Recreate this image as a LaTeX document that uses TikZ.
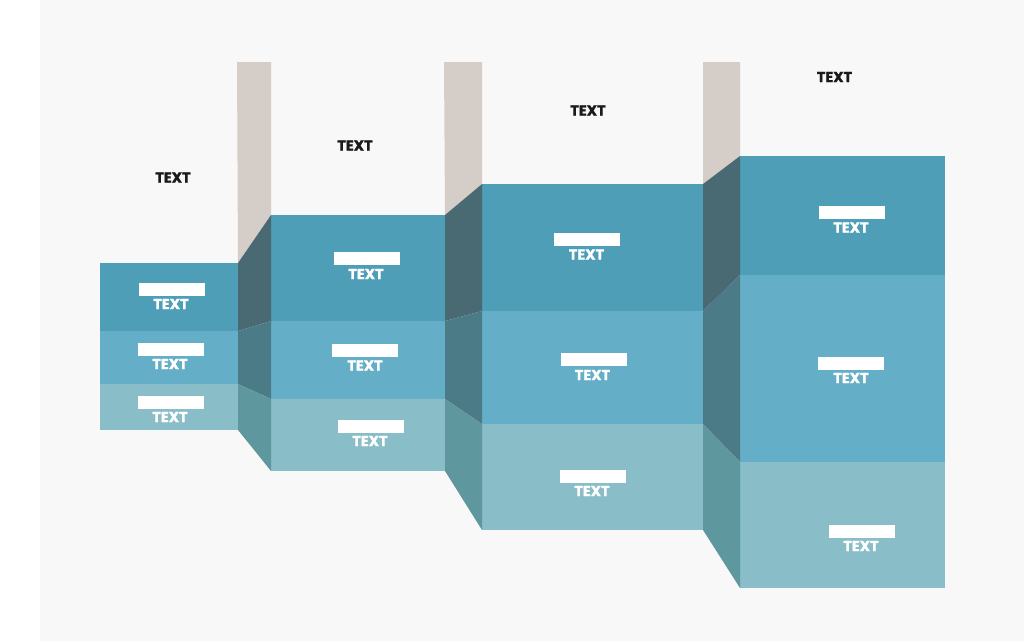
\documentclass[tikz,border=0pt]{standalone}
\usepackage{fontspec}
\setmainfont{Poppins}
\newfontfamily\heavyfont{Poppins}[BoldFeatures={FakeBold=1.4}]
\definecolor{bgray}{HTML}{F8F8F8}
\definecolor{topband}{HTML}{4E9EB7}
\definecolor{midband}{HTML}{65AEC7}
\definecolor{lowband}{HTML}{89BDC8}
\definecolor{topside}{HTML}{4A6A73}
\definecolor{midside}{HTML}{4B7B86}
\definecolor{lowside}{HTML}{5F979E}
\definecolor{pillar}{HTML}{D5CDC7}
\definecolor{ink}{HTML}{1A1A1A}

\begin{document}
\begin{tikzpicture}[x=1pt,y=-1pt,
    tag/.style={fill=white,minimum width=66pt,minimum height=13pt,inner sep=0pt},
    tagtext/.style={text=white,inner sep=0pt,font=\heavyfont\bfseries\fontsize{14.5}{14.5}\selectfont},
    title/.style={text=ink,inner sep=0pt,font=\heavyfont\bfseries\fontsize{14.5}{14.5}\selectfont}]
		\useasboundingbox (0,0) rectangle (1024,641);
		\fill[white] (0,0) rectangle (40,641);
		\fill[bgray] (40,0) rectangle (1024,641);
		% pillars
		\fill[pillar] (237,62) -- (271,62) -- (271,215) -- (238,263) -- cycle;
		\fill[pillar] (444,62) -- (482,62) -- (482,184) -- (445,215) -- cycle;
		\fill[pillar] (703,62) -- (740,62) -- (740,156) -- (703,184) -- cycle;
		% blocks
		\fill[topband] (100,263) rectangle (238,331);
		\fill[midband] (100,331) rectangle (238,384);
		\fill[lowband] (100,384) rectangle (238,430);
		\fill[topband] (271,215) rectangle (445,321);
		\fill[midband] (271,321) rectangle (445,399);
		\fill[lowband] (271,399) rectangle (445,471);
		\fill[topband] (482,184) rectangle (703,311);
		\fill[midband] (482,311) rectangle (703,424);
		\fill[lowband] (482,424) rectangle (703,530);
		\fill[topband] (740,156) rectangle (945,275);
		\fill[midband] (740,275) rectangle (945,462);
		\fill[lowband] (740,462) rectangle (945,588);
		% sides
		\fill[topside] (238,263) -- (271,215) -- (271,321) -- (238,331) -- cycle;
		\fill[midside] (238,331) -- (271,321) -- (271,399) -- (238,384) -- cycle;
		\fill[lowside] (238,384) -- (271,399) -- (271,471) -- (238,430) -- cycle;
		\fill[topside] (445,215) -- (482,184) -- (482,311) -- (445,321) -- cycle;
		\fill[midside] (445,321) -- (482,311) -- (482,424) -- (445,399) -- cycle;
		\fill[lowside] (445,399) -- (482,424) -- (482,530) -- (445,471) -- cycle;
		\fill[topside] (703,184) -- (740,156) -- (740,275) -- (703,311) -- cycle;
		\fill[midside] (703,311) -- (740,275) -- (740,462) -- (703,424) -- cycle;
		\fill[lowside] (703,424) -- (740,462) -- (740,588) -- (703,530) -- cycle;
		% labels
		\node[tag] (r1a) at (172,289) {};
		\node[tagtext] (t1a) at (171,304) {TEXT};
		\node[tag] (r1b) at (170.5,349.5) {};
		\node[tagtext] (t1b) at (170,364) {TEXT};
		\node[tag] (r1c) at (170.5,402) {};
		\node[tagtext] (t1c) at (170,417) {TEXT};
		\node[tag] (r2a) at (367,258.5) {};
		\node[tagtext] (t2a) at (366,274) {TEXT};
		\node[tag] (r2b) at (365,350.5) {};
		\node[tagtext] (t2b) at (365,365.5) {TEXT};
		\node[tag] (r2c) at (370.5,426.5) {};
		\node[tagtext] (t2c) at (370,441) {TEXT};
		\node[tag] (r3a) at (587,239) {};
		\node[tagtext] (t3a) at (586.5,254.5) {TEXT};
		\node[tag] (r3b) at (593.5,359.5) {};
		\node[tagtext] (t3b) at (592.5,375) {TEXT};
		\node[tag] (r3c) at (592.5,476.5) {};
		\node[tagtext] (t3c) at (592,491) {TEXT};
		\node[tag] (r4a) at (851.5,212.5) {};
		\node[tagtext] (t4a) at (851,227.5) {TEXT};
		\node[tag] (r4b) at (851,363) {};
		\node[tagtext] (t4b) at (851,378) {TEXT};
		\node[tag] (r4c) at (861.5,531.5) {};
		\node[tagtext] (t4c) at (861,546) {TEXT};
		% titles
		\node[title] (h1) at (173,177.5) {TEXT};
		\node[title] (h2) at (355,145.5) {TEXT};
		\node[title] (h3) at (588,110.5) {TEXT};
		\node[title] (h4) at (834.5,77) {TEXT};
		\end{tikzpicture}
\end{document}
